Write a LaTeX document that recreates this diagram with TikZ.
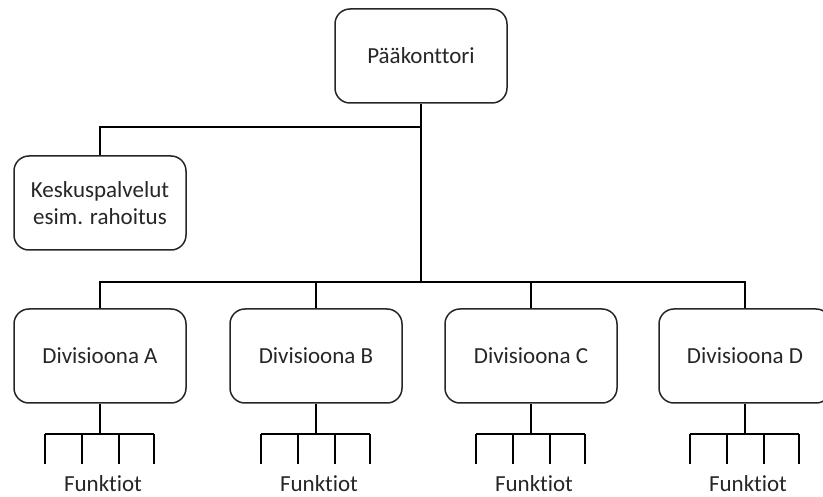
\documentclass[tikz,border=0pt]{standalone}
\usepackage{fontspec}
\setmainfont[Ligatures=NoCommon]{Carlito}
\begin{document}
\begin{tikzpicture}[x=1pt,y=-1pt,
  unit/.style={draw=black!85,line width=1.5pt,rounded corners=15pt,
    minimum width=172pt,minimum height=94pt,align=center,
    font=\fontsize{23}{27}\selectfont,text=black!85,inner sep=0pt},
  link/.style={draw=black,line width=1.5pt},
  fn/.style={font=\fontsize{23}{27}\selectfont,text=black!85,inner sep=0pt,anchor=base}]
\useasboundingbox (0,0) rectangle (823,497);
% head office and central services
\node[unit] (hq) at (421,56) {Pääkonttori};
\node[unit] (cs) at (100,203) {Keskuspalvelut\\esim. rahoitus};
\coordinate (hqj) at (421,127);
\draw[link] (hq.south) -- (hqj) -| (cs.north);
% divisions
\coordinate (divj) at (421,282);
\draw[link] (hqj) -- (divj);
\foreach \n/\x in {A/100,B/316,C/531,D/745}{
  \node[unit] (div\n) at (\x,356) {Divisioona \n};
  \draw[link] (divj) -| (div\n.north);
  % functions below each division
  \coordinate (fj\n) at (\x,434);
  \draw[link] (div\n.south) -- (fj\n);
  \foreach \d [count=\i] in {-55,-18,19,54}{
    \coordinate (ft\n\i) at (\x+\d,464);
  }
  \draw[link] (ft\n1 |- fj\n) -- (ft\n4 |- fj\n);
  \foreach \i in {1,...,4}{
    \draw[link] (ft\n\i |- fj\n) -- (ft\n\i);
  }
  \node[fn] (fn\n) at (\x+3,491) {Funktiot};
}
\end{tikzpicture}
\end{document}
